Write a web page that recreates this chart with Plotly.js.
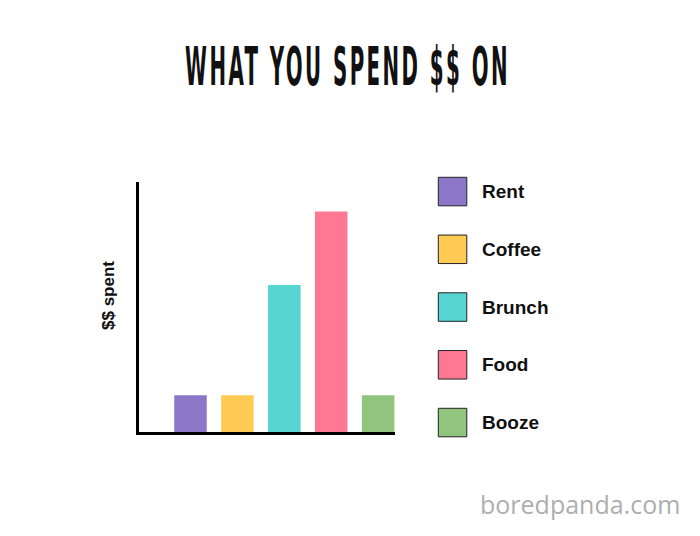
<!DOCTYPE html>
<html>
<head>
<meta charset="utf-8">
<script src="https://cdn.plot.ly/plotly-3.0.1.min.js"></script>
<style>html,body{margin:0;padding:0;background:#fff}#chart{width:700px;height:536px}</style>
</head>
<body>
<div id="chart"></div>
<script>
// Data
const categories = ["Rent", "Coffee", "Brunch", "Food", "Booze"];
const spent = [1, 1, 4, 6, 1];
const colors = ["#8C76C8", "#FFCB52", "#56D5D2", "#FF7893", "#91C47D"];

const titleText = "WHAT YOU SPEND $$ ON";
const yTitle = "$$ spent";
const watermark = "boredpanda.com";

// Layout geometry (pixels)
const W = 700, H = 536;
const plotL = 139, plotR = 395, plotT = 182, plotB = 432;
const pw = plotR - plotL, ph = plotB - plotT;
const px2paperX = p => (p - plotL) / pw;
const py2paperY = p => (plotB - p) / ph;

const shapes = [];
const annotations = [];
const sq = 28.5, sqLeft = 438.3, firstTop = 177.3, step = 57.75, textLeft = 480;
categories.forEach((c, i) => {
  const top = firstTop + i * step;
  shapes.push({
    type: "rect", xref: "paper", yref: "paper",
    x0: px2paperX(sqLeft), x1: px2paperX(sqLeft + sq),
    y0: py2paperY(top + sq), y1: py2paperY(top),
    fillcolor: colors[i], line: {color: "#222", width: 1}
  });
  annotations.push({
    xref: "paper", yref: "paper",
    x: px2paperX(textLeft), y: py2paperY(top + sq / 2),
    xanchor: "left", yanchor: "middle", showarrow: false,
    text: "<b>" + c + "</b>",
    font: {family: "Liberation Sans, Arial, sans-serif", size: 19, color: "#111"}
  });
});
annotations.push({
  xref: "paper", yref: "paper",
  x: px2paperX(108), y: py2paperY(296),
  xanchor: "center", yanchor: "middle", showarrow: false,
  textangle: -90,
  text: "<b>" + yTitle + "</b>",
  font: {family: "Liberation Sans, Arial, sans-serif", size: 17, color: "#111"}
});
annotations.push({
  xref: "paper", yref: "paper",
  x: px2paperX(682), y: py2paperY(504),
  xanchor: "right", yanchor: "middle", showarrow: false,
  text: watermark,
  font: {family: "Open Sans, sans-serif", size: 25, color: "#AEAEAE"}
});

const trace = {
  type: "bar",
  x: categories.map((c, i) => i),
  y: spent,
  marker: {color: colors, line: {width: 0}},
  hoverinfo: "none",
  showlegend: false
};

const layout = {
  width: W, height: H,
  margin: {l: plotL, r: W - plotR, t: plotT, b: H - plotB, pad: 0},
  paper_bgcolor: "#fff", plot_bgcolor: "#fff",
  bargap: 0.307,
  title: {
    text: titleText,
    x: 0.497, xref: "container", xanchor: "center",
    y: 1 - 66 / H, yref: "container", yanchor: "middle",
    font: {family: "DejaVu Sans Condensed, DejaVu Sans, sans-serif", size: 54, color: "#111", weight: "bold"}
  },
  xaxis: {
    range: [-1.098, 4.36], showticklabels: false, ticks: "",
    showgrid: false, zeroline: false,
    showline: true, linecolor: "#000", linewidth: 3, fixedrange: true
  },
  yaxis: {
    range: [0, 6.8], showticklabels: false, ticks: "",
    showgrid: false, zeroline: false,
    showline: true, linecolor: "#000", linewidth: 3, fixedrange: true
  },
  shapes: shapes,
  annotations: annotations
};

Plotly.newPlot("chart", [trace], layout, {displayModeBar: false, staticPlot: true}).then(gd => {
  // Squeeze the title horizontally to mimic the narrow hand-lettered headline
  const t = gd.querySelector("text.gtitle");
  if (t) {
    t.style.letterSpacing = "6px";
    const bb = t.getBBox();
    const targetW = 325;
    const s = targetW / bb.width;
    const cx = bb.x + bb.width / 2;
    const dest = 347.5;
    t.setAttribute("transform", `translate(${dest},0) scale(${s},1) translate(${-cx},0)`);
  }
});
</script>
</body>
</html>
